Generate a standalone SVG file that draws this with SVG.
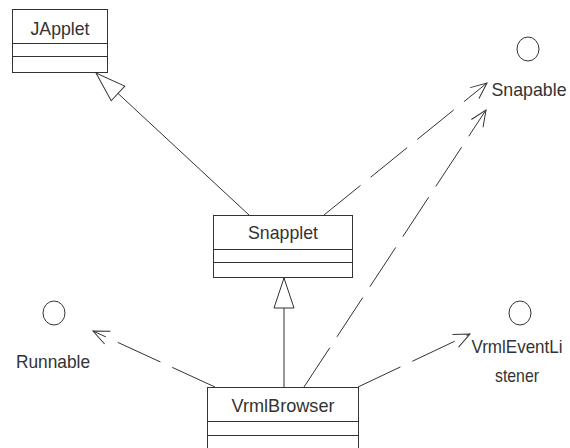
<svg xmlns="http://www.w3.org/2000/svg" width="570" height="448" viewBox="0 0 570 448">
<style>
.box{fill:#fff;stroke:#333;stroke-width:1}
.sep{stroke:#333;stroke-width:1}
.lbl{font-family:"Liberation Sans",Arial,sans-serif;font-size:19px;fill:#333;text-anchor:middle}
.iface{fill:none;stroke:#333;stroke-width:1}
.gen{fill:none;stroke:#333;stroke-width:1;marker-end:url(#tri)}
.real{fill:none;stroke:#333;stroke-width:1;stroke-dasharray:47 13;marker-end:url(#open)}
</style>
<defs>
<marker id="tri" markerUnits="userSpaceOnUse" viewBox="-32 -12 34 24" refX="0" refY="0" markerWidth="34" markerHeight="24" orient="auto">
<path d="M0,0 L-30,-10 L-30,10 Z" fill="#fff" stroke="#333" stroke-width="1"/>
</marker>
<marker id="open" markerUnits="userSpaceOnUse" viewBox="-18 -9 20 18" refX="0" refY="0" markerWidth="20" markerHeight="18" orient="auto">
<path d="M-16,-7 L0,0 L-16,7" fill="none" stroke="#333" stroke-width="1" stroke-dasharray="none"/>
</marker>
</defs>
<g id="connectors">
<path class="gen" d="M249,215 L96,73"/>
<path class="gen" d="M284,387 L284,278"/>
<path class="real" d="M324,215 L487,83"/>
<path class="real" d="M304,387 L486,110"/>
<path class="real" d="M215,387 L93,331"/>
<path class="real" d="M358,387 L470,334"/>
</g>
<g id="JApplet">
<rect class="box" x="12.5" y="9.5" width="95" height="63"/>
<line class="sep" x1="12.5" y1="43.5" x2="107.5" y2="43.5"/>
<line class="sep" x1="12.5" y1="56.5" x2="107.5" y2="56.5"/>
<text class="lbl" x="60" y="35" textLength="59" lengthAdjust="spacingAndGlyphs">JApplet</text>
</g>
<g id="Snapplet">
<rect class="box" x="213.5" y="215.5" width="139" height="62"/>
<line class="sep" x1="213.5" y1="249.5" x2="352.5" y2="249.5"/>
<line class="sep" x1="213.5" y1="262.5" x2="352.5" y2="262.5"/>
<text class="lbl" x="283" y="239" textLength="70" lengthAdjust="spacingAndGlyphs">Snapplet</text>
</g>
<g id="VrmlBrowser">
<rect class="box" x="207.5" y="387.5" width="151" height="62"/>
<line class="sep" x1="207.5" y1="421.5" x2="358.5" y2="421.5"/>
<line class="sep" x1="207.5" y1="435.5" x2="358.5" y2="435.5"/>
<text class="lbl" x="283" y="412" textLength="103" lengthAdjust="spacingAndGlyphs">VrmlBrowser</text>
</g>
<g id="Runnable">
<ellipse class="iface" cx="54" cy="313" rx="11" ry="12"/>
<text class="lbl" x="53" y="368" textLength="74" lengthAdjust="spacingAndGlyphs">Runnable</text>
</g>
<g id="Snapable">
<ellipse class="iface" cx="528" cy="49" rx="11" ry="12"/>
<text class="lbl" x="529" y="96" textLength="75" lengthAdjust="spacingAndGlyphs">Snapable</text>
</g>
<g id="VrmlEventListener">
<ellipse class="iface" cx="520" cy="313" rx="11" ry="12"/>
<text class="lbl" x="517" y="353" textLength="91" lengthAdjust="spacingAndGlyphs">VrmlEventLi</text>
<text class="lbl" x="517" y="382" textLength="44" lengthAdjust="spacingAndGlyphs">stener</text>
</g>
</svg>
